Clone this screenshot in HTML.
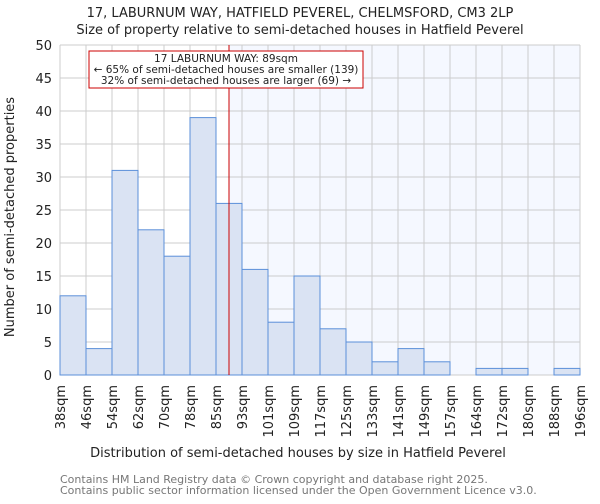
<!DOCTYPE html>
<html><head><meta charset="utf-8"><style>
body{margin:0;background:#fff;font-family:"DejaVu Sans","Liberation Sans",sans-serif}
</style></head><body>
<svg width="600" height="500" xmlns="http://www.w3.org/2000/svg" font-family="DejaVu Sans, Liberation Sans, sans-serif">
<text x="300" y="17" text-anchor="middle" font-size="13" fill="#222">17, LABURNUM WAY, HATFIELD PEVEREL, CHELMSFORD, CM3 2LP</text>
<text x="300" y="34" text-anchor="middle" font-size="13" fill="#222">Size of property relative to semi-detached houses in Hatfield Peverel</text>
<g id="plot"></g>
<text x="298" y="457" text-anchor="middle" font-size="13" fill="#222">Distribution of semi-detached houses by size in Hatfield Peverel</text>
<text transform="translate(14,217) rotate(-90)" text-anchor="middle" font-size="13" fill="#222">Number of semi-detached properties</text>
<text x="60" y="483" font-size="11" fill="#777">Contains HM Land Registry data © Crown copyright and database right 2025.</text>
<text x="60" y="494" font-size="11" fill="#777">Contains public sector information licensed under the Open Government Licence v3.0.</text>
</svg>
<script>
const categories=["38sqm","46sqm","54sqm","62sqm","70sqm","78sqm","85sqm","93sqm","101sqm","109sqm","117sqm","125sqm","133sqm","141sqm","149sqm","157sqm","164sqm","172sqm","180sqm","188sqm","196sqm"];
const counts=[12,4,31,22,18,39,26,16,8,15,7,5,2,4,2,0,1,1,0,1];
const yTicks=[0,5,10,15,20,25,30,35,40,45,50];
const markerBin=6.5;
const NS="http://www.w3.org/2000/svg";
const g=document.getElementById('plot');
const X0=60,X1=580,Y0=375,Y1=45;
const bw=(X1-X0)/counts.length;
const xs=i=>X0+i*bw;
const ys=v=>Y0-(v/50)*(Y0-Y1);
function mk(t,a){const e=document.createElementNS(NS,t);for(const k in a)e.setAttribute(k,a[k]);g.appendChild(e);return e;}
const mx=xs(markerBin);
let e=mk('rect',{x:mx,y:Y1,width:X1-mx,height:Y0-Y1,fill:'#f5f8ff'});


yTicks.forEach(t=>{
 let l=mk('line',{x1:X0,x2:X1,y1:ys(t),y2:ys(t),stroke:'#ccc','stroke-width':1});
 
 
 let tx=mk('text',{x:X0-8,y:ys(t)+5,'text-anchor':'end','font-size':13,fill:'#222'});
 tx.textContent=t;
 
 
});
categories.forEach((c,i)=>{
 let l=mk('line',{x1:xs(i),x2:xs(i),y1:Y1,y2:Y0,stroke:'#ccc','stroke-width':1});
 
 
 let tx=mk('text',{transform:`translate(${xs(i)+5},${Y0+10}) rotate(-90)`,'text-anchor':'end','font-size':13,fill:'#222'});
 tx.textContent=c;
 
 
});
counts.forEach((v,i)=>{
 let r=mk('rect',{x:xs(i),y:ys(v),width:bw,height:Y0-ys(v),fill:'#dae3f3',stroke:'#5b8fd9','stroke-width':1});
 
 
});
let ml=mk('line',{x1:mx,x2:mx,y1:Y1,y2:Y0,stroke:'#cc0000','stroke-width':1});


let box=mk('rect',{x:89,y:51,width:274,height:37,fill:'#fff',stroke:'#cc0000','stroke-width':1});


["17 LABURNUM WAY: 89sqm","← 65% of semi-detached houses are smaller (139)","32% of semi-detached houses are larger (69) →"].forEach((s,i)=>{
 let t=mk('text',{x:226,y:62+i*11,'text-anchor':'middle','font-size':10.5,fill:'#222'});
 t.textContent=s;
 
 
});
</script>
</body></html>
